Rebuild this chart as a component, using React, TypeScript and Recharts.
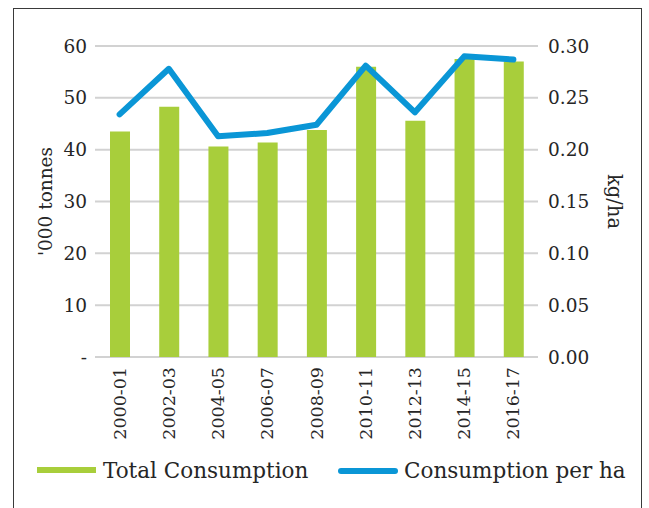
import { Bar, CartesianGrid, ComposedChart, Line, XAxis, YAxis } from "recharts";

const periods = ["2000-01", "2002-03", "2004-05", "2006-07", "2008-09", "2010-11", "2012-13", "2014-15", "2016-17"];
const totalConsumption = [43.5, 48.3, 40.6, 41.4, 43.8, 56.0, 45.6, 57.5, 57.0];
const perHa = [0.234, 0.278, 0.213, 0.216, 0.224, 0.281, 0.236, 0.29, 0.287];
const leftTicks = [0, 10, 20, 30, 40, 50, 60];
const rightTicks = [0, 0.05, 0.1, 0.15, 0.2, 0.25, 0.3];

const FONT = "'DejaVu Serif', serif";
const TEXT = "#262626";
const GREEN = "#a8ce3b";
const BLUE = "#0a96d6";

const data = periods.map((p, i) => ({ period: p, total: totalConsumption[i], perHa: perHa[i] }));

function PeriodTick(props: any) {
  const { x, y, payload } = props;
  return (
    <g transform={`translate(${x},${y})`}>
      <text
        transform="rotate(-90)"
        x={-10}
        y={6}
        textAnchor="end"
        fontFamily={FONT}
        fontSize={17.5}
        fill={TEXT}
      >
        {payload.value}
      </text>
    </g>
  );
}

export default function App() {
  return (
    <div style={{ position: "absolute", left: 0, top: 0, width: 649, height: 508, overflow: "hidden", background: "#fff" }}>
      {/* frame, open at the bottom */}
      <div
        style={{
          position: "absolute",
          left: 13,
          top: 8,
          width: 629,
          height: 540,
          border: "1.5px solid #3a3a3a",
          boxSizing: "border-box",
        }}
      />
      <div style={{ position: "absolute", left: 0, top: 0 }}>
        <ComposedChart width={649} height={508} data={data} margin={{ top: 46, right: 0, bottom: 0, left: 0 }}>
          <CartesianGrid vertical={false} stroke="#d2d2d2" strokeWidth={2} yAxisId="left" />
          <XAxis
            dataKey="period"
            height={151}
            interval={0}
            axisLine={false}
            tickLine={false}
            tickSize={0}
            tickMargin={0}
            tick={<PeriodTick />}
          />
          <YAxis
            yAxisId="left"
            width={95}
            domain={[0, 60]}
            ticks={leftTicks}
            axisLine={false}
            tickLine={false}
            tickSize={0}
            tickMargin={8}
            tickFormatter={(v: number) => (v === 0 ? "-" : String(v))}
            tick={{ fontFamily: FONT, fontSize: 18.5, fill: TEXT }}
            label={{
              value: "'000 tonnes",
              angle: -90,
              position: "insideLeft",
              offset: 45,
              style: { fontFamily: FONT, fontSize: 18.5, fill: TEXT, textAnchor: "middle" },
            }}
          />
          <YAxis
            yAxisId="right"
            orientation="right"
            width={111}
            domain={[0, 0.3]}
            ticks={rightTicks}
            axisLine={false}
            tickLine={false}
            tickSize={0}
            tickMargin={10}
            tickFormatter={(v: number) => v.toFixed(2)}
            tick={{ fontFamily: FONT, fontSize: 18.5, fill: TEXT }}
            label={{
              value: "kg/ha",
              angle: 90,
              position: "insideRight",
              offset: 34,
              style: { fontFamily: FONT, fontSize: 19.5, fill: TEXT, textAnchor: "middle" },
            }}
          />
          <Bar yAxisId="left" dataKey="total" name="Total Consumption" fill={GREEN} barSize={20} isAnimationActive={false} />
          <Line
            yAxisId="right"
            dataKey="perHa"
            name="Consumption per ha"
            type="linear"
            stroke={BLUE}
            strokeWidth={6}
            strokeLinejoin="round"
            strokeLinecap="round"
            dot={false}
            activeDot={false}
            isAnimationActive={false}
          />
        </ComposedChart>
      </div>
      {/* legend */}
      <svg width={649} height={508} style={{ position: "absolute", left: 0, top: 0, pointerEvents: "none" }}>
        <rect x={37} y={467} width={59} height={6} fill={GREEN} />
        <text x={103} y={478} fontFamily={FONT} fontSize={21.5} fill={TEXT}>
          Total Consumption
        </text>
        <line x1={341} y1={471} x2={395} y2={471} stroke={BLUE} strokeWidth={6} strokeLinecap="round" />
        <text x={404} y={478} fontFamily={FONT} fontSize={21.5} fill={TEXT}>
          Consumption per ha
        </text>
      </svg>
    </div>
  );
}
